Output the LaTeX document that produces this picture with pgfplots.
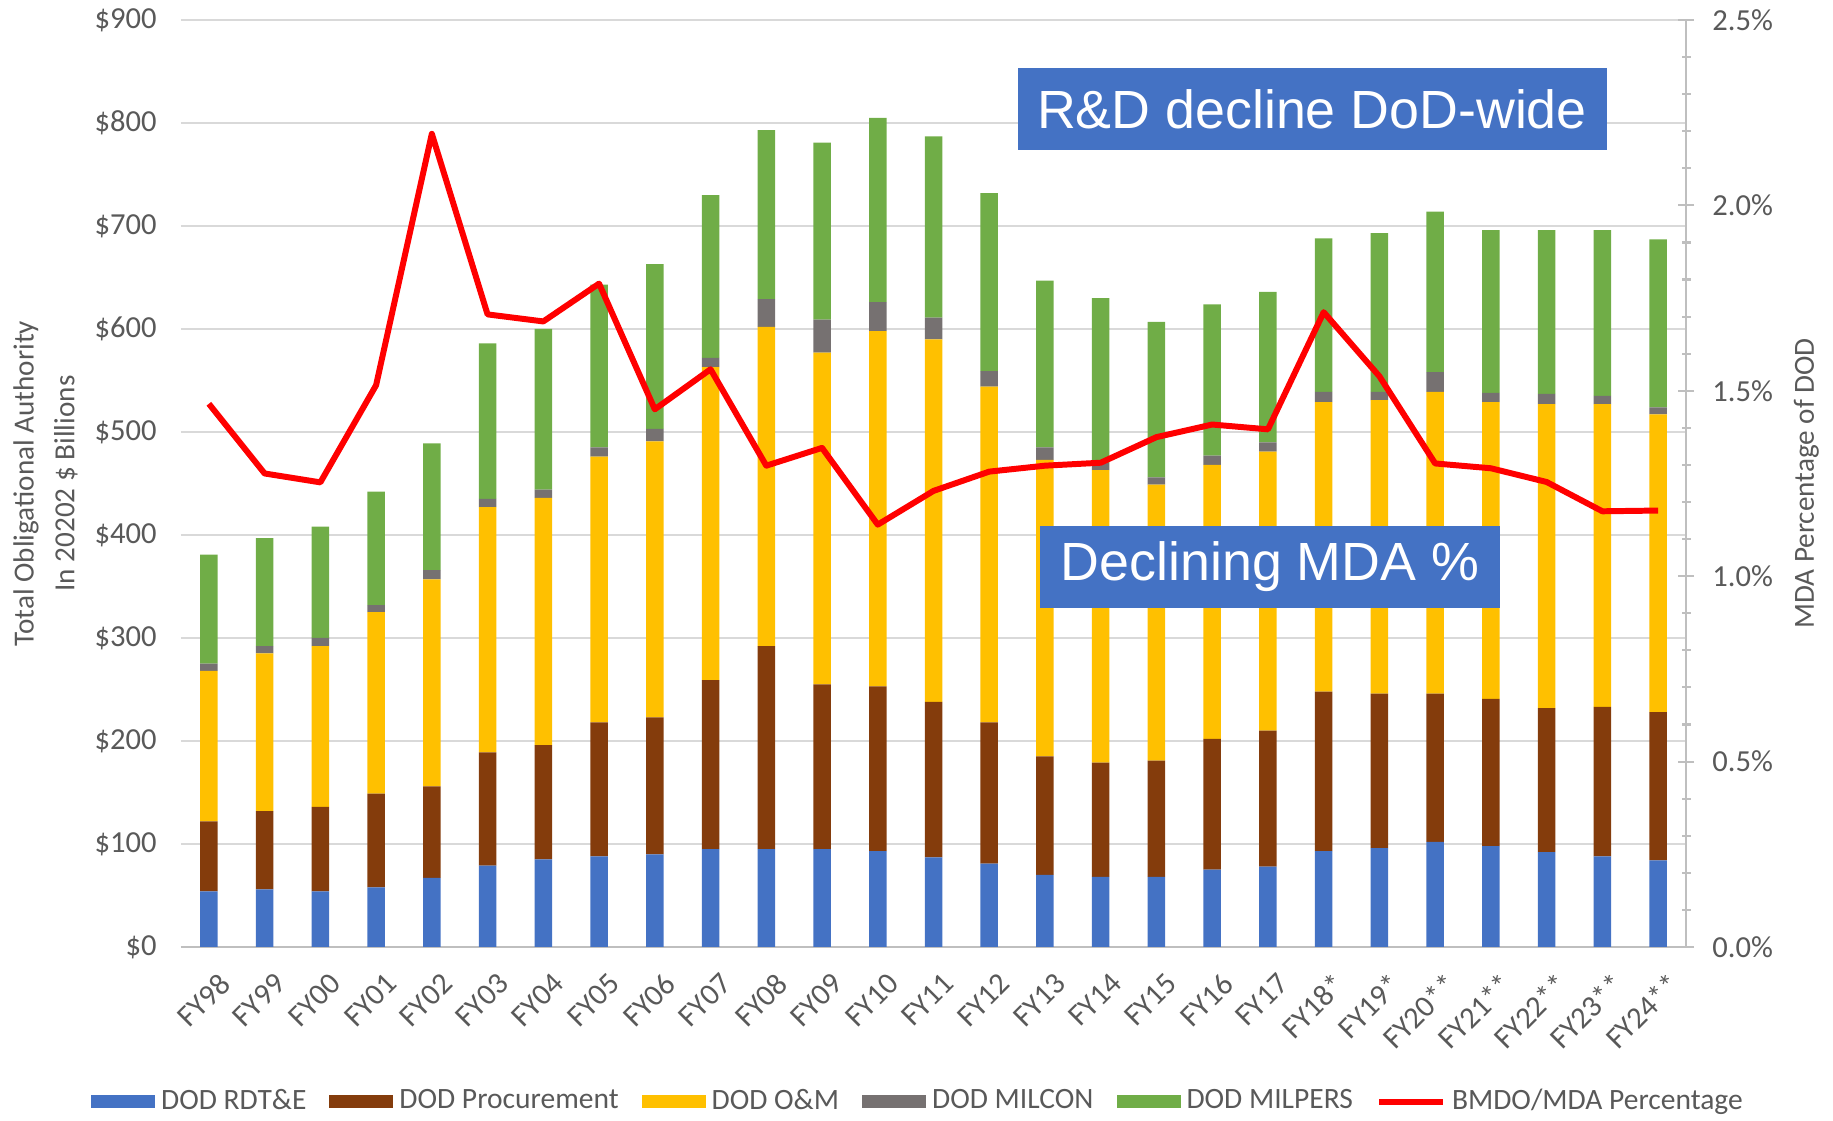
\documentclass[border=0pt]{standalone}
\usepackage{fontspec}
\setmainfont{Carlito}
\newfontfamily\arialfont{Liberation Sans}
\usepackage{pgfplots}
\pgfplotsset{compat=1.18}
\usepackage{pgfplotstable}

\definecolor{rdteblue}{HTML}{4472C4}
\definecolor{procbrown}{HTML}{843C0C}
\definecolor{omgold}{HTML}{FFC000}
\definecolor{milcongray}{HTML}{767171}
\definecolor{milpersgreen}{HTML}{70AD47}
\definecolor{gridgray}{HTML}{D9D9D9}
\definecolor{axisgray}{HTML}{BFBFBF}
\definecolor{labelgray}{HTML}{595959}
\definecolor{boxblue}{HTML}{4472C4}

% stacked increments in $B, last column = BMDO/MDA share in %
\pgfplotstableread{
x rdte proc om milcon milpers pct
0  54  68 146  7 106 1.465
1  56  76 153  7 105 1.277
2  54  82 156  8 108 1.253
3  58  91 176  7 110 1.515
4  67  89 201  9 123 2.193
5  79 110 238  8 151 1.706
6  85 111 240  8 156 1.687
7  88 130 258  9 158 1.789
8  90 133 268 12 160 1.450
9  95 164 304  9 158 1.558
10 95 197 310 27 164 1.298
11 95 160 322 32 172 1.346
12 93 160 345 28 179 1.139
13 87 151 352 21 176 1.230
14 81 137 326 15 173 1.282
15 70 115 288 12 162 1.298
16 68 111 284  7 160 1.306
17 68 113 268  7 151 1.375
18 75 127 266  9 147 1.409
19 78 132 271  9 146 1.396
20 93 155 281 10 149 1.712
21 96 150 285  8 154 1.539
22 102 144 293 19 156 1.304
23 98 143 288  9 158 1.291
24 92 140 295 10 159 1.254
25 88 145 294  8 161 1.175
26 84 144 289  7 163 1.177
}\budget

\begin{document}
\begin{tikzpicture}
\useasboundingbox (-1.81,-1.74) rectangle (16.52,9.47);
\begin{axis}[
    at={(0,0)}, anchor=south west,
    scale only axis,
    width=15.05cm, height=9.27cm,
    ybar stacked, bar width=1.75mm,
    xmin=-0.5, xmax=26.5, ymin=0, ymax=900,
    xtick=data,
    xticklabels={FY98,FY99,FY00,FY01,FY02,FY03,FY04,FY05,FY06,FY07,FY08,FY09,FY10,FY11,FY12,FY13,FY14,FY15,FY16,FY17,FY18*,FY19*,FY20**,FY21**,FY22**,FY23**,FY24**},
    ytick={0,100,...,900},
    /pgf/number format/assume math mode=true,
    yticklabel={\$\pgfmathprintnumber{\tick}},
    axis lines*=left,
    y axis line style={draw=none},
    x axis line style={draw=axisgray, line width=0.5pt},
    major tick length=0pt,
    ymajorgrids, grid style={gridgray, line width=0.5pt},
    ticklabel style={font=\fontsize{8.7}{10}\selectfont, text=labelgray},
    yticklabel style={xshift=-1.2mm},
    xticklabel style={rotate=45, anchor=north east, xshift=0.1mm, yshift=-1.1mm},
    ylabel={Total Obligational Authority\\In 20202 \$ Billions},
    ylabel style={align=center, font=\fontsize{8.3}{11.6}\selectfont, text=labelgray,
        at={(axis description cs:-0.09,0.5)}, anchor=center},
    legend columns=6,
    legend style={draw=none, fill=none, at={(axis description cs:0.491,-0.167)}, anchor=center,
        font=\fontsize{8.4}{10}\selectfont, text=labelgray,
        /tikz/every even column/.append style={column sep=1.7mm},
        nodes={inner sep=0.6mm}},
    legend image code/.code={\fill (0cm,-0.065cm) rectangle (0.64cm,0.065cm);},
]
\addplot[fill=rdteblue, draw=none] table[x=x, y=rdte]{\budget};
\addlegendentry{DOD RDT\&E}
\addplot[fill=procbrown, draw=none] table[x=x, y=proc]{\budget};
\addlegendentry{DOD Procurement}
\addplot[fill=omgold, draw=none] table[x=x, y=om]{\budget};
\addlegendentry{DOD O\&M}
\addplot[fill=milcongray, draw=none] table[x=x, y=milcon]{\budget};
\addlegendentry{DOD MILCON}
\addplot[fill=milpersgreen, draw=none] table[x=x, y=milpers]{\budget};
\addlegendentry{DOD MILPERS}
\addlegendimage{legend image code/.code={\draw[red, line width=1.7pt] (0cm,0cm) -- (0.64cm,0cm);}}
\addlegendentry{BMDO/MDA Percentage}
\end{axis}

\begin{axis}[
    at={(0,0)}, anchor=south west,
    scale only axis,
    width=15.05cm, height=9.27cm,
    xmin=-0.5, xmax=26.5, ymin=0, ymax=2.5,
    axis x line=none,
    axis y line*=right,
    y axis line style={draw=axisgray, line width=0.6pt},
    ytick={0,0.5,1,1.5,2,2.5},
    minor y tick num=4,
    tick align=center,
    major tick length=1.6mm, minor tick length=0.9mm,
    every tick/.style={axisgray, line width=0.6pt},
    yticklabel={\pgfmathprintnumber[fixed,fixed zerofill,precision=1]{\tick}\%},
    /pgf/number format/assume math mode=true,
    ticklabel style={font=\fontsize{8.7}{10}\selectfont, text=labelgray},
    yticklabel style={xshift=0.6mm},
    ylabel={MDA Percentage of DOD},
    ylabel style={font=\fontsize{8.3}{10}\selectfont, text=labelgray,
        at={(axis description cs:1.08,0.5)}, anchor=center},
]
\addplot[red, line width=1.7pt, no markers, line join=round] table[x=x, y=pct]{\budget};
\end{axis}

\node[fill=boxblue, text=white, font=\arialfont\fontsize{15.3}{18}\selectfont,
    minimum width=5.89cm, minimum height=0.82cm, inner sep=0pt] at (11.31,8.38) {R\&D decline DoD-wide};
\node[fill=boxblue, text=white, font=\arialfont\fontsize{15.3}{18}\selectfont,
    minimum width=4.6cm, minimum height=0.82cm, inner sep=0pt] at (10.89,3.80) {Declining MDA \%};
\end{tikzpicture}
\end{document}
